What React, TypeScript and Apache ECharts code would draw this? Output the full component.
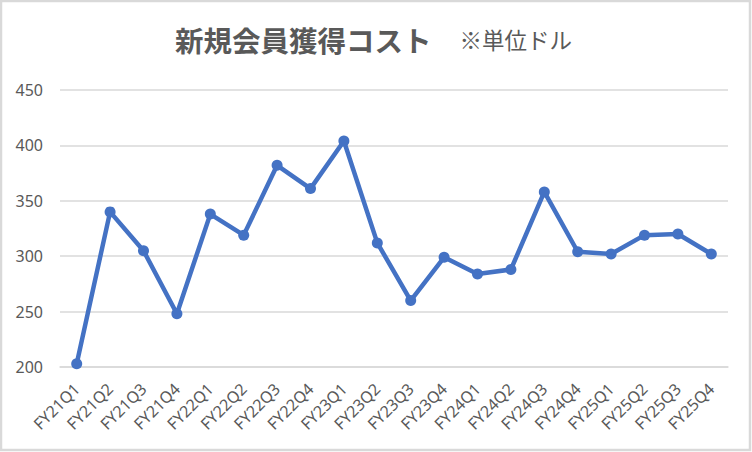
import React, { useEffect, useRef } from "react";
import * as echarts from "echarts";

const categories = [
  "FY21Q1", "FY21Q2", "FY21Q3", "FY21Q4",
  "FY22Q1", "FY22Q2", "FY22Q3", "FY22Q4",
  "FY23Q1", "FY23Q2", "FY23Q3", "FY23Q4",
  "FY24Q1", "FY24Q2", "FY24Q3", "FY24Q4",
  "FY25Q1", "FY25Q2", "FY25Q3", "FY25Q4",
];
const costValues = [
  203, 340, 305, 248,
  338, 319, 382, 361,
  404, 312, 260, 299,
  284, 288, 358, 304,
  302, 319, 320, 302,
];
const titleMain = "新規会員獲得コスト";
const titleUnit = "※単位ドル";

export default function App() {
  const ref = useRef<HTMLDivElement>(null);
  useEffect(() => {
    if (!ref.current) return;
    const chart = echarts.init(ref.current, undefined, { renderer: "svg" });
    chart.setOption({
      animation: false,
      backgroundColor: "#ffffff",
      title: {
        left: 170,
        top: 20,
        text: `{a|${titleMain}}{b|${titleUnit}}`,
        textStyle: {
          rich: {
            a: {
              fontFamily: "Noto Sans CJK JP",
              fontSize: 28.5,
              fontWeight: "bold",
              color: "#595959",
            },
            b: {
              fontFamily: "Noto Sans CJK JP",
              fontSize: 22.5,
              fontWeight: "normal",
              color: "#595959",
              padding: [0, 0, 0, 28],
            },
          },
        },
      },
      graphic: [
        {
          type: "rect",
          shape: { x: 1, y: 1, width: 749, height: 449 },
          style: { fill: "none", stroke: "#d9d9d9", lineWidth: 2.5 },
          silent: true,
        },
      ],
      grid: { left: 60, right: 24, top: 90, bottom: 85, containLabel: false },
      xAxis: {
        type: "category",
        data: categories,
        boundaryGap: true,
        axisLine: { show: true, lineStyle: { color: "#d9d9d9", width: 1.5 } },
        axisTick: { show: false },
        axisLabel: {
          rotate: 45,
          interval: 0,
          margin: 19,
          fontSize: 16,
          color: "#595959",
          fontFamily: "Noto Sans",
        },
      },
      yAxis: {
        type: "value",
        min: 200,
        max: 450,
        interval: 50,
        axisLine: { show: false },
        axisTick: { show: false },
        splitLine: { lineStyle: { color: "#d9d9d9", width: 1.5 } },
        axisLabel: {
          margin: 17,
          fontSize: 16,
          color: "#595959",
          fontFamily: "Noto Sans",
        },
      },
      series: [
        {
          type: "line",
          data: costValues,
          symbol: "circle",
          symbolSize: 11,
          lineStyle: { color: "#4472C4", width: 4.5 },
          itemStyle: { color: "#4472C4" },
        },
      ],
    });
    return () => chart.dispose();
  }, []);
  return (
    <div
      ref={ref}
      style={{ position: "fixed", left: 0, top: 0, width: 752, height: 452 }}
    />
  );
}
